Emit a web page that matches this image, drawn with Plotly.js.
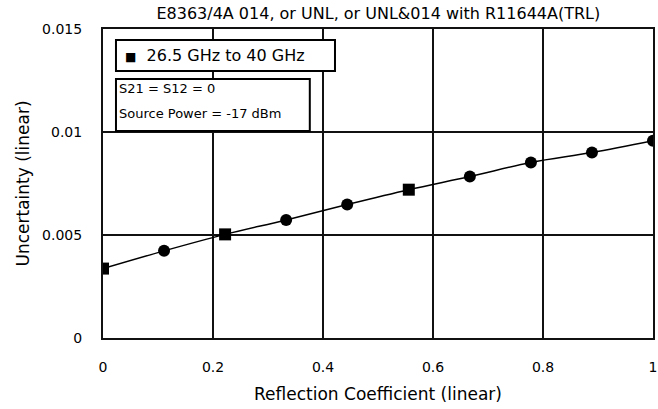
<!DOCTYPE html>
<html>
<head>
<meta charset="utf-8">
<script src="https://cdn.plot.ly/plotly-3.0.1.min.js"></script>
<style>html,body{margin:0;padding:0;background:#fff;}#chart{width:658px;height:409px;}</style>
</head>
<body>
<div id="chart"></div>
<script>
const reflection = [0, 0.111, 0.222, 0.333, 0.444, 0.556, 0.667, 0.778, 0.889, 1.0];
const uncertainty = [0.00337, 0.00423, 0.00503, 0.00573, 0.00648, 0.0072, 0.00784, 0.00852, 0.009, 0.00957];
const markerSymbols = ['square', 'circle', 'square', 'circle', 'circle', 'square', 'circle', 'circle', 'circle', 'circle'];
const seriesLabel = '26.5 GHz to 40 GHz';
const chartTitle = 'E8363/4A 014, or UNL, or UNL&014 with R11644A(TRL)';
const xTitle = 'Reflection Coefficient (linear)';
const yTitle = 'Uncertainty (linear)';
const conditions = ['S21 = S12 = 0', 'Source Power = -17 dBm'];

const fam = 'DejaVu Sans, Arial, sans-serif';

const trace = {
  x: reflection, y: uncertainty, type: 'scatter', mode: 'lines+markers',
  name: seriesLabel, showlegend: false,
  line: {color: '#000', width: 1.5, shape: 'spline'},
  marker: {color: '#000', size: 12, symbol: markerSymbols}
};

const boxStyle = {type: 'rect', xref: 'paper', yref: 'paper', layer: 'above',
  fillcolor: '#fff', line: {color: '#000', width: 2}};

const layout = {
  width: 658, height: 409,
  margin: {l: 103, r: 5, t: 29, b: 71},
  paper_bgcolor: '#fff', plot_bgcolor: '#fff',
  font: {family: fam, size: 13, color: '#000'},
  showlegend: false,
  title: {text: chartTitle, font: {family: fam, size: 16, color: '#000'},
          x: 0.575, xanchor: 'center', yref: 'container', y: 0.98, yanchor: 'top'},
  xaxis: {
    range: [0, 1], dtick: 0.2, tick0: 0,
    showgrid: true, gridcolor: '#111', gridwidth: 2,
    showline: true, linecolor: '#111', linewidth: 2, mirror: true,
    zeroline: false, ticks: '', ticklabelstandoff: 15,
    tickfont: {family: fam, size: 14, color: '#000'},
    title: {text: xTitle, font: {family: fam, size: 17, color: '#000'}, standoff: 14}
  },
  yaxis: {
    range: [0, 0.015], dtick: 0.005, tick0: 0,
    showgrid: true, gridcolor: '#111', gridwidth: 2,
    showline: true, linecolor: '#111', linewidth: 2, mirror: true,
    zeroline: false, ticks: '', ticklabelstandoff: 16,
    tickfont: {family: fam, size: 14, color: '#000'},
    title: {text: yTitle, font: {family: fam, size: 17, color: '#000'}, standoff: 8}
  },
  shapes: [
    Object.assign({x0: 0.0236, x1: 0.4218, y0: 0.864, y1: 0.9644}, boxStyle),
    Object.assign({x0: 0.0236, x1: 0.376, y0: 0.670, y1: 0.838}, boxStyle)
  ],
  annotations: [
    {xref: 'paper', yref: 'paper', x: 0.036, y: 0.914, xanchor: 'left', yanchor: 'middle',
     text: '<span style="font-size:12px">\u25A0</span>  ' + seriesLabel, showarrow: false, align: 'left',
     font: {family: fam, size: 16, color: '#000'}},
    {xref: 'paper', yref: 'paper', x: 0.026, y: 0.806, xanchor: 'left', yanchor: 'middle',
     text: conditions[0], showarrow: false, align: 'left',
     font: {family: fam, size: 13, color: '#000'}},
    {xref: 'paper', yref: 'paper', x: 0.026, y: 0.728, xanchor: 'left', yanchor: 'middle',
     text: conditions[1], showarrow: false, align: 'left',
     font: {family: fam, size: 13, color: '#000'}}
  ]
};

Plotly.newPlot('chart', [trace], layout, {displayModeBar: false, staticPlot: true});
</script>
</body>
</html>
